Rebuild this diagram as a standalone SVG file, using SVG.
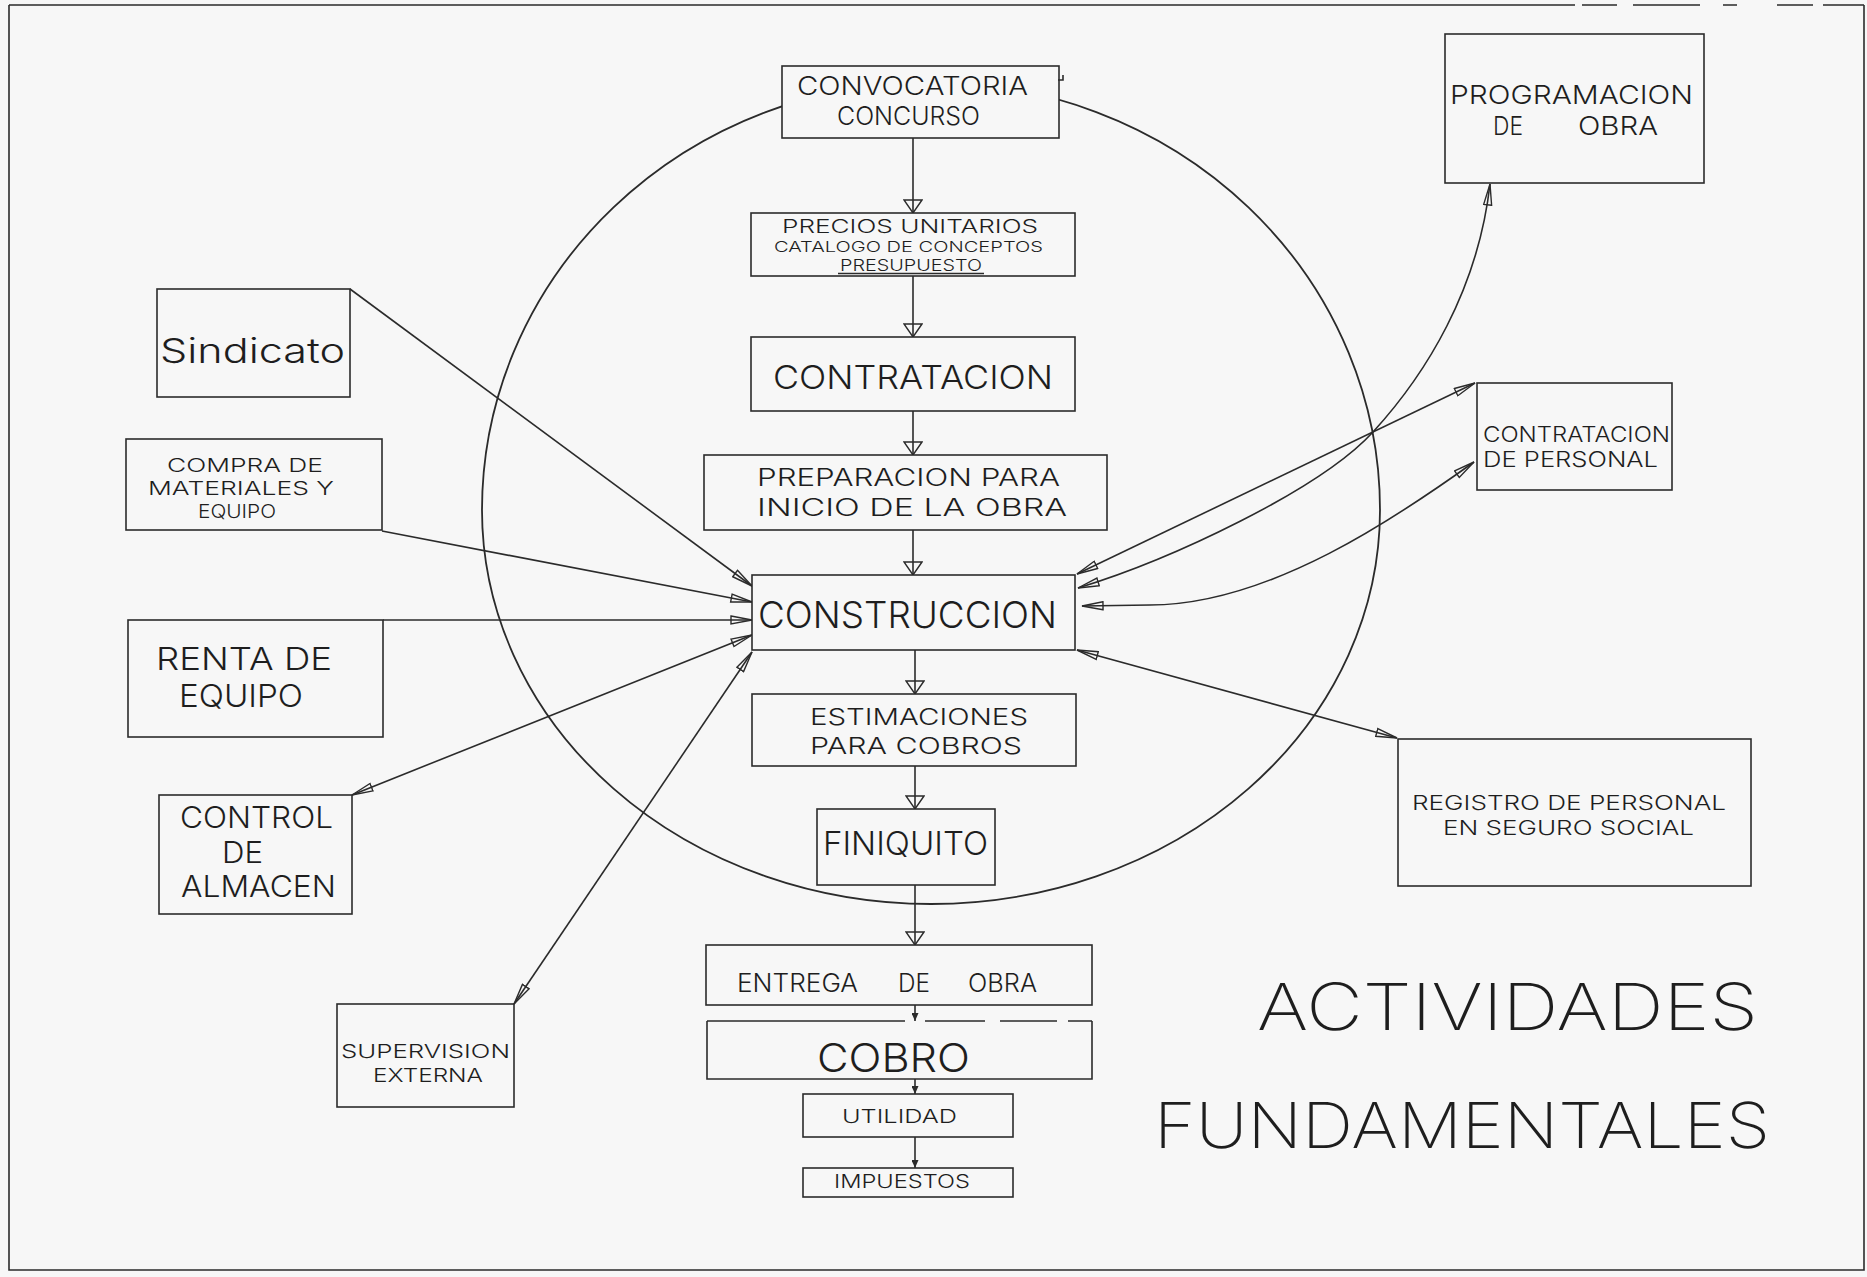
<svg xmlns="http://www.w3.org/2000/svg" width="1867" height="1277" viewBox="0 0 1867 1277">
<style>
.bg{fill:#f7f7f7}
.box{fill:#f7f7f7;stroke:#2b2b2b;stroke-width:1.6}
.ln{fill:none;stroke:#2b2b2b;stroke-width:1.6}
.c{fill:none;stroke:#2b2b2b;stroke-width:1.8}
.t{font-family:Inter,"Liberation Sans",Arial,sans-serif;font-weight:300;fill:#1e1e1e}
.ti{font-family:Inter,"Liberation Sans",sans-serif;font-weight:200;fill:#1e1e1e}
</style>
<defs>
<marker id="av" viewBox="0 0 15 20" refX="14" refY="10" markerWidth="15" markerHeight="20" markerUnits="userSpaceOnUse" orient="auto"><path d="M1,1 L14,10 L1,19 Z" fill="none" stroke="#2b2b2b" stroke-width="1.4"/></marker>
<marker id="ae" viewBox="0 0 23 10" refX="22" refY="5" markerWidth="23" markerHeight="10" markerUnits="userSpaceOnUse" orient="auto"><path d="M1,1 L22,5 L1,9 Z" fill="none" stroke="#2b2b2b" stroke-width="1.4"/></marker>
<marker id="as" viewBox="0 0 23 10" refX="22" refY="5" markerWidth="23" markerHeight="10" markerUnits="userSpaceOnUse" orient="auto-start-reverse"><path d="M1,1 L22,5 L1,9 Z" fill="none" stroke="#2b2b2b" stroke-width="1.4"/></marker>
<marker id="af" viewBox="0 0 8 7" refX="8" refY="3.5" markerWidth="8" markerHeight="7" markerUnits="userSpaceOnUse" orient="auto"><path d="M0,0 L8,3.5 L0,7 Z" fill="#2b2b2b"/></marker>
</defs>
<rect class="bg" x="0" y="0" width="1867" height="1277"/>
<g id="frame" class="ln" stroke-width="1.4">
<path d="M9,5 L1575,5 M1582,5 L1617,5 M1633,5 L1700,5 M1723,5 L1737,5 M1777,5 L1813,5 M1823,5 L1864,5"/>
<path d="M9,5 L9,1270 L1864,1270 L1864,5"/>
</g>
<g id="circle">
<path class="c" d="M482,510 A449,428 0 0 1 1380,510 A449,394 0 0 1 482,510 Z"/>
</g>
<g id="connectors">
<path class="ln" d="M913,138 L913,213" marker-end="url(#av)"/>
<path class="ln" d="M913,276 L913,337" marker-end="url(#av)"/>
<path class="ln" d="M913,411 L913,455" marker-end="url(#av)"/>
<path class="ln" d="M913,530 L913,575" marker-end="url(#av)"/>
<path class="ln" d="M915,650 L915,694" marker-end="url(#av)"/>
<path class="ln" d="M915,766 L915,809" marker-end="url(#av)"/>
<path class="ln" d="M915,885 L915,945" marker-end="url(#av)"/>
<path class="ln" d="M915,1005 L915,1021" marker-end="url(#af)"/>
<path class="ln" d="M915,1079 L915,1094" marker-end="url(#af)"/>
<path class="ln" d="M915,1137 L915,1168" marker-end="url(#af)"/>
<path class="ln" d="M350,289 L752,586" marker-end="url(#ae)"/>
<path class="ln" d="M382,531 L752,602" marker-end="url(#ae)"/>
<path class="ln" d="M383,620 L752,620" marker-end="url(#ae)"/>
<path class="ln" d="M352,795 L752,635" marker-start="url(#as)" marker-end="url(#as)"/>
<path class="ln" d="M514,1004 L752,652" marker-start="url(#as)" marker-end="url(#as)"/>
<path class="ln" d="M1475,383 L1077,574" marker-start="url(#as)" marker-end="url(#as)"/>
<path class="ln" d="M1490,184 C1478,290 1426,374 1373,432 C1320,490 1170,560 1078,588" marker-start="url(#as)" marker-end="url(#as)"/>
<path class="ln" d="M1474,462 C1400,515 1270,605 1150,605 L1082,606" marker-start="url(#as)" marker-end="url(#as)"/>
<path class="ln" d="M1077,650 L1397,738" marker-start="url(#as)" marker-end="url(#as)"/>
</g>
<g id="convocatoria">
<rect class="box" x="782" y="66" width="277" height="72"/>
<path class="ln" d="M1058,80 L1063,80 L1063,75" stroke-width="1.2"/>
<text class="t" x="797" y="95" font-size="25" textLength="231" lengthAdjust="spacingAndGlyphs">CONVOCATORIA</text>
<text class="t" x="837" y="125" font-size="25" textLength="143" lengthAdjust="spacingAndGlyphs">CONCURSO</text>
</g>
<g id="precios">
<rect class="box" x="751" y="213" width="324" height="63"/>
<text class="t" x="782" y="233" font-size="18" textLength="256" lengthAdjust="spacingAndGlyphs">PRECIOS UNITARIOS</text>
<text class="t" x="774" y="252" font-size="14" textLength="269" lengthAdjust="spacingAndGlyphs">CATALOGO DE CONCEPTOS</text>
<text class="t" x="840" y="271" font-size="16" textLength="142" lengthAdjust="spacingAndGlyphs">PRESUPUESTO</text>
<path class="ln" d="M838,273.5 L984,273.5" stroke-width="1.3"/>
</g>
<g id="contratacion">
<rect class="box" x="751" y="337" width="324" height="74"/>
<text class="t" x="773" y="389" font-size="33" textLength="280" lengthAdjust="spacingAndGlyphs">CONTRATACION</text>
</g>
<g id="preparacion">
<rect class="box" x="704" y="455" width="403" height="75"/>
<text class="t" x="757" y="486" font-size="24" textLength="303" lengthAdjust="spacingAndGlyphs">PREPARACION PARA</text>
<text class="t" x="757" y="516" font-size="24" textLength="310" lengthAdjust="spacingAndGlyphs">INICIO DE LA OBRA</text>
</g>
<g id="construccion">
<rect class="box" x="752" y="575" width="323" height="75"/>
<text class="t" x="758" y="628" font-size="37" textLength="299" lengthAdjust="spacingAndGlyphs">CONSTRUCCION</text>
</g>
<g id="estimaciones">
<rect class="box" x="752" y="694" width="324" height="72"/>
<text class="t" x="810" y="725" font-size="23" textLength="218" lengthAdjust="spacingAndGlyphs">ESTIMACIONES</text>
<text class="t" x="810" y="754" font-size="23" textLength="212" lengthAdjust="spacingAndGlyphs">PARA COBROS</text>
</g>
<g id="finiquito">
<rect class="box" x="817" y="809" width="178" height="76"/>
<text class="t" x="823" y="855" font-size="32" textLength="165" lengthAdjust="spacingAndGlyphs">FINIQUITO</text>
</g>
<g id="entrega">
<rect class="box" x="706" y="945" width="386" height="60"/>
<text class="t" y="992" font-size="25"><tspan x="737" textLength="121" lengthAdjust="spacingAndGlyphs">ENTREGA</tspan><tspan x="898" textLength="32" lengthAdjust="spacingAndGlyphs">DE</tspan><tspan x="968" textLength="69" lengthAdjust="spacingAndGlyphs">OBRA</tspan></text>
</g>
<g id="cobro">
<rect x="707" y="1021" width="385" height="58" fill="#f7f7f7"/>
<path class="ln" d="M707,1021 L707,1079 L1092,1079 L1092,1021 M707,1021 L905,1021 M925,1021 L985,1021 M1000,1021 L1057,1021 M1068,1021 L1092,1021"/>
<text class="t" x="817" y="1072" font-size="40" textLength="153" lengthAdjust="spacingAndGlyphs">COBRO</text>
</g>
<g id="utilidad">
<rect class="box" x="803" y="1094" width="210" height="43"/>
<text class="t" x="842" y="1123" font-size="19" textLength="115" lengthAdjust="spacingAndGlyphs">UTILIDAD</text>
</g>
<g id="impuestos">
<rect class="box" x="803" y="1168" width="210" height="29"/>
<text class="t" x="834" y="1188" font-size="19" textLength="136" lengthAdjust="spacingAndGlyphs">IMPUESTOS</text>
</g>
<g id="sindicato">
<rect class="box" x="157" y="289" width="193" height="108"/>
<text class="t" x="160" y="363" font-size="34" textLength="185" lengthAdjust="spacingAndGlyphs">Sindicato</text>
</g>
<g id="compra">
<rect class="box" x="126" y="439" width="256" height="91"/>
<text class="t" x="167" y="472" font-size="19" textLength="156" lengthAdjust="spacingAndGlyphs">COMPRA DE</text>
<text class="t" x="148" y="495" font-size="19" textLength="186" lengthAdjust="spacingAndGlyphs">MATERIALES Y</text>
<text class="t" x="198" y="518" font-size="19" textLength="78" lengthAdjust="spacingAndGlyphs">EQUIPO</text>
</g>
<g id="renta">
<rect class="box" x="128" y="620" width="255" height="117"/>
<text class="t" x="156" y="670" font-size="31" textLength="176" lengthAdjust="spacingAndGlyphs">RENTA DE</text>
<text class="t" x="179" y="707" font-size="31" textLength="124" lengthAdjust="spacingAndGlyphs">EQUIPO</text>
</g>
<g id="control">
<rect class="box" x="159" y="795" width="193" height="119"/>
<text class="t" x="180" y="828" font-size="30" textLength="153" lengthAdjust="spacingAndGlyphs">CONTROL</text>
<text class="t" x="222" y="863" font-size="30" textLength="41" lengthAdjust="spacingAndGlyphs">DE</text>
<text class="t" x="181" y="897" font-size="30" textLength="155" lengthAdjust="spacingAndGlyphs">ALMACEN</text>
</g>
<g id="supervision">
<rect class="box" x="337" y="1004" width="177" height="103"/>
<text class="t" x="341" y="1058" font-size="19" textLength="169" lengthAdjust="spacingAndGlyphs">SUPERVISION</text>
<text class="t" x="373" y="1082" font-size="19" textLength="110" lengthAdjust="spacingAndGlyphs">EXTERNA</text>
</g>
<g id="programacion">
<rect class="box" x="1445" y="34" width="259" height="149"/>
<text class="t" x="1450" y="104" font-size="26" textLength="243" lengthAdjust="spacingAndGlyphs">PROGRAMACION</text>
<text class="t" y="135" font-size="26"><tspan x="1493" textLength="30" lengthAdjust="spacingAndGlyphs">DE</tspan><tspan x="1578" textLength="80" lengthAdjust="spacingAndGlyphs">OBRA</tspan></text>
</g>
<g id="contratacion-personal">
<rect class="box" x="1477" y="383" width="195" height="107"/>
<text class="t" x="1483" y="442" font-size="21" textLength="187" lengthAdjust="spacingAndGlyphs">CONTRATACION</text>
<text class="t" x="1483" y="467" font-size="21" textLength="175" lengthAdjust="spacingAndGlyphs">DE PERSONAL</text>
</g>
<g id="registro">
<rect class="box" x="1398" y="739" width="353" height="147"/>
<text class="t" x="1412" y="810" font-size="20" textLength="314" lengthAdjust="spacingAndGlyphs">REGISTRO DE PERSONAL</text>
<text class="t" x="1443" y="835" font-size="20" textLength="251" lengthAdjust="spacingAndGlyphs">EN SEGURO SOCIAL</text>
</g>
<g id="titulo">
<text class="ti" x="1257" y="1030" font-size="65" textLength="501" lengthAdjust="spacingAndGlyphs">ACTIVIDADES</text>
<text class="ti" x="1154" y="1148" font-size="63" textLength="616" lengthAdjust="spacingAndGlyphs">FUNDAMENTALES</text>
</g>
</svg>
